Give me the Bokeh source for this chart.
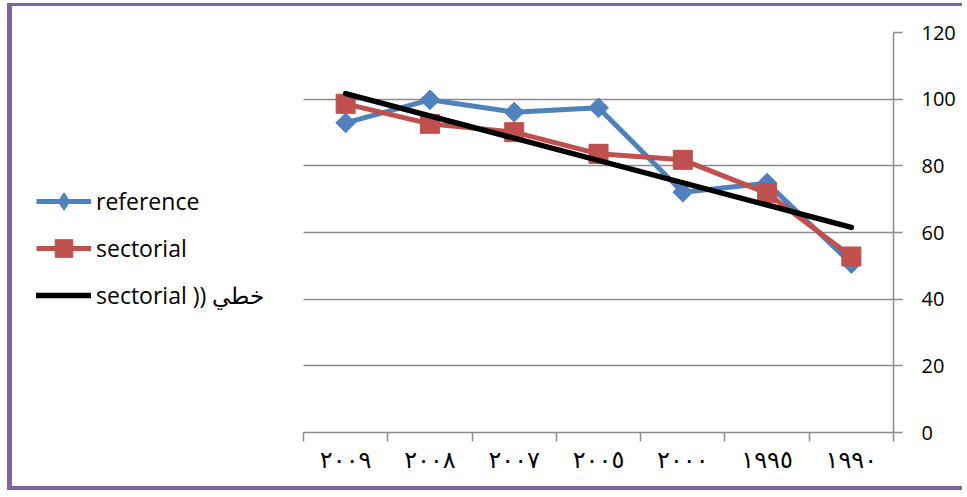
import numpy as np
from bokeh.plotting import figure
from bokeh.models import FixedTicker, Legend, LegendItem, Range1d, ColumnDataSource
from bokeh.embed import file_html
from bokeh.resources import INLINE

# Categories (left to right) and their Arabic-Indic tick labels
years = ["2009", "2008", "2007", "2005", "2000", "1995", "1990"]
year_labels = ["٢٠٠٩", "٢٠٠٨", "٢٠٠٧", "٢٠٠٥", "٢٠٠٠", "١٩٩٥", "١٩٩٠"]

# Series values
reference = [92.9, 99.8, 96.1, 97.4, 72.1, 74.8, 50.7]
sectorial = [98.6, 92.6, 90.1, 83.6, 81.8, 71.8, 52.8]

y_ticks = [0, 20, 40, 60, 80, 100, 120]
trend_name = "sectorial )) خطي"

BLUE = "#4F81BD"
RED = "#C0504D"
GRID = "#8C8C8C"
FRAME = "#8064A2"
FONT = "Open Sans"

x = list(range(1, len(years) + 1))
src = ColumnDataSource(dict(x=x, year=years, reference=reference, sectorial=sectorial))

# Linear trendline fitted to the sectorial series
slope, intercept = np.polyfit(x, sectorial, 1)
trend_x = [x[0], x[-1]]
trend_y = [slope * v + intercept for v in trend_x]

# Layout: the data area spans 590 px for the categories; the frame is widened
# to the left so the legend can sit inside it.
W, H = 955, 487
LEFT, RIGHT, TOP, BOTTOM = 20, 74, 26, 61
DATA_LEFT = 291
x_lo, x_hi = 0.5, len(years) + 0.5
px_per_unit = (W - RIGHT - DATA_LEFT) / (x_hi - x_lo)
x_start = x_lo - (DATA_LEFT - LEFT) / px_per_unit

p = figure(width=W, height=H,
           x_range=Range1d(x_start, x_hi), y_range=Range1d(0, 120),
           y_axis_location="right", output_backend="svg", toolbar_location=None,
           min_border_left=LEFT, min_border_right=RIGHT,
           min_border_top=TOP, min_border_bottom=BOTTOM)
p.outline_line_color = None
p.background_fill_color = "white"
p.border_fill_color = "white"
p.styles = {
    "border-left": f"5px solid {FRAME}",
    "border-top": f"3px solid {FRAME}",
    "border-bottom": f"4px solid {FRAME}",
    "margin-left": "7px",
    "margin-top": "3px",
}

# Grid
p.xgrid.grid_line_color = None
p.ygrid.grid_line_color = GRID
p.ygrid.grid_line_width = 1.5
p.ygrid.cross_bounds = (x_lo, x_hi)

# Right value axis
yax = p.yaxis[0]
yax.ticker = FixedTicker(ticks=y_ticks)
yax.axis_line_color = GRID
yax.axis_line_width = 1.5
yax.major_tick_line_color = GRID
yax.major_tick_line_width = 1.5
yax.major_tick_in = 0
yax.major_tick_out = 9
yax.minor_tick_line_color = None
yax.major_label_standoff = 19
yax.major_label_text_font = FONT
yax.major_label_text_font_size = "20px"
yax.major_label_text_color = "black"

# Bottom category axis: labels at centres, tick marks between categories
xax = p.xaxis[0]
xax.bounds = (x_lo, x_hi)
xax.ticker = FixedTicker(ticks=x, minor_ticks=[v - 0.5 for v in x] + [x[-1] + 0.5])
xax.major_label_overrides = {v: lab for v, lab in zip(x, year_labels)}
xax.axis_line_color = GRID
xax.axis_line_width = 1.5
xax.major_tick_line_color = None
xax.major_tick_in = 0
xax.major_tick_out = 0
xax.minor_tick_line_color = GRID
xax.minor_tick_line_width = 1.5
xax.minor_tick_in = 0
xax.minor_tick_out = 9
xax.major_label_standoff = 4
xax.major_label_text_font = "DejaVu Sans"
xax.major_label_text_font_size = "24px"
xax.major_label_text_color = "black"

# Series
ref_line = p.line("x", "reference", source=src, color=BLUE, line_width=5, line_join="round")
ref_key = p.scatter("x", "reference", source=src, marker="diamond", size=18, color=BLUE)
p.scatter("x", "reference", source=src, marker="square", angle=np.pi / 4,
          size=14, color=BLUE)
sec_line = p.line("x", "sectorial", source=src, color=RED, line_width=5, line_join="round")
sec_mark = p.scatter("x", "sectorial", source=src, marker="square", size=19, color=RED)
trend = p.line(trend_x, trend_y, color="black", line_width=5.5, line_cap="round")

# Legend on the left
legend = Legend(items=[
    LegendItem(label="reference", renderers=[ref_line, ref_key]),
    LegendItem(label="sectorial", renderers=[sec_line, sec_mark]),
    LegendItem(label=trend_name, renderers=[trend]),
], location=(4, 115))
legend.glyph_width = 55
legend.glyph_height = 44
legend.label_height = 44
legend.spacing = 3
legend.padding = 0
legend.margin = 0
legend.label_standoff = 5
legend.label_text_font = FONT
legend.label_text_font_size = "23px"
legend.label_text_color = "black"
legend.border_line_color = None
legend.background_fill_alpha = 0
p.add_layout(legend)

open("out.html", "w").write(file_html(p, INLINE))
